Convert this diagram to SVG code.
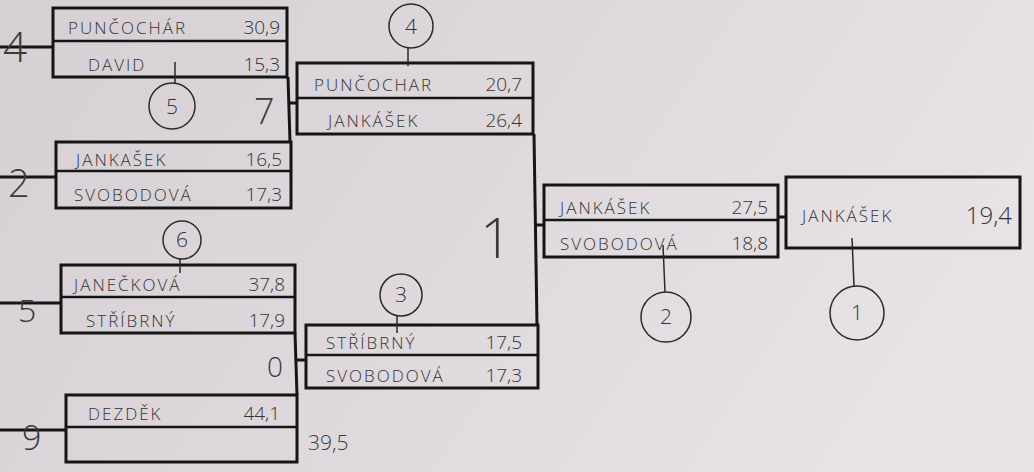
<svg xmlns="http://www.w3.org/2000/svg" width="1034" height="472" viewBox="0 0 1034 472">
<defs>
<linearGradient id="paper" x1="0" y1="0" x2="1" y2="0.3">
<stop offset="0" stop-color="#d6cfd3"/>
<stop offset="0.5" stop-color="#ded8dc"/>
<stop offset="1" stop-color="#e7e2e5"/>
</linearGradient>
<style>
.box{fill:none;stroke:#151515;stroke-width:3}
.mid{stroke:#151515;stroke-width:2.5}
.con{stroke:#151515;stroke-width:3;fill:none}
.name{font-family:"Open Sans","Liberation Sans",sans-serif;font-weight:300;font-size:17px;fill:#333;letter-spacing:2px}
.score{font-family:"Open Sans","Liberation Sans",sans-serif;font-weight:300;font-size:19px;fill:#333;text-anchor:end}
.hand{font-family:"Open Sans","Liberation Sans",sans-serif;fill:#3a3a3a;font-weight:300}
.ring{fill:none;stroke:#2a2a2a;stroke-width:1.5}
.tick{stroke:#2a2a2a;stroke-width:1.5}
.rnum{font-family:"Open Sans","Liberation Sans",sans-serif;font-weight:300;font-size:21px;fill:#333;text-anchor:middle}
</style>
</defs>
<rect width="1034" height="472" fill="url(#paper)"/>

<g id="connectors">
<line class="con" x1="0" y1="47" x2="53" y2="47"/>
<line class="con" x1="0" y1="177" x2="56" y2="177"/>
<line class="con" x1="0" y1="303" x2="61" y2="303"/>
<line class="con" x1="0" y1="430" x2="66" y2="430"/>
<line class="con" x1="288" y1="77" x2="290" y2="142"/>
<line class="con" x1="289" y1="103" x2="297" y2="103"/>
<line class="con" x1="534" y1="134" x2="537" y2="325"/>
<line class="con" x1="536" y1="225" x2="544" y2="225"/>
<line class="con" x1="295" y1="333" x2="297" y2="395"/>
<line class="con" x1="296" y1="360" x2="306" y2="360"/>
<line class="con" x1="778" y1="217" x2="786" y2="217"/>
</g>

<g id="match-1">
<rect class="box" x="53" y="8" width="234" height="69"/>
<line class="mid" x1="53" y1="41" x2="287" y2="41"/>
<text class="name" x="68" y="34">PUNČOCHÁR</text>
<text class="score" x="280" y="34">30,9</text>
<text class="name" x="88" y="71">DAVID</text>
<text class="score" x="280" y="71">15,3</text>
</g>

<g id="match-2">
<rect class="box" x="56" y="142" width="235" height="66"/>
<line class="mid" x1="56" y1="171" x2="291" y2="171"/>
<text class="name" x="76" y="166">JANKAŠEK</text>
<text class="score" x="282" y="166">16,5</text>
<text class="name" x="74" y="201">SVOBODOVÁ</text>
<text class="score" x="282" y="201">17,3</text>
</g>

<g id="match-3">
<rect class="box" x="61" y="265" width="234" height="68"/>
<line class="mid" x1="61" y1="297" x2="295" y2="297"/>
<text class="name" x="74" y="291">JANEČKOVÁ</text>
<text class="score" x="285" y="291">37,8</text>
<text class="name" x="86" y="327">STŘÍBRNÝ</text>
<text class="score" x="285" y="327">17,9</text>
</g>

<g id="match-4">
<rect class="box" x="66" y="395" width="231" height="67"/>
<line class="mid" x1="66" y1="427" x2="297" y2="427"/>
<text class="name" x="88" y="420">DEZDĚK</text>
<text class="score" x="280" y="420">44,1</text>
</g>

<g id="match-5">
<rect class="box" x="297" y="63" width="236" height="71"/>
<line class="mid" x1="297" y1="98" x2="533" y2="98"/>
<text class="name" x="314" y="91">PUNČOCHAR</text>
<text class="score" x="522" y="91">20,7</text>
<text class="name" x="328" y="127">JANKÁŠEK</text>
<text class="score" x="522" y="127">26,4</text>
</g>

<g id="match-6">
<rect class="box" x="306" y="325" width="232" height="63"/>
<line class="mid" x1="306" y1="355" x2="538" y2="355"/>
<text class="name" x="326" y="349">STŘÍBRNÝ</text>
<text class="score" x="522" y="349">17,5</text>
<text class="name" x="326" y="382">SVOBODOVÁ</text>
<text class="score" x="522" y="382">17,3</text>
</g>

<g id="match-7">
<rect class="box" x="544" y="185" width="234" height="72"/>
<line class="mid" x1="544" y1="220" x2="778" y2="220"/>
<text class="name" x="560" y="214">JANKÁŠEK</text>
<text class="score" x="768" y="214">27,5</text>
<text class="name" x="560" y="250">SVOBODOVÁ</text>
<text class="score" x="768" y="250">18,8</text>
</g>

<g id="final">
<rect class="box" x="786" y="177" width="234" height="71"/>
<text class="name" x="802" y="222">JANKÁŠEK</text>
<text class="score" x="1012" y="224" style="font-size:24px">19,4</text>
</g>

<g id="seeds">
<text class="hand" x="3" y="62" font-size="42">4</text>
<text class="hand" x="8" y="197" font-size="38">2</text>
<text class="hand" x="18" y="322" font-size="32">5</text>
<text class="hand" x="22" y="450" font-size="34">9</text>
<text class="hand" x="254" y="124" font-size="36">7</text>
<text class="hand" x="480" y="258" font-size="56">1</text>
<text class="hand" x="267" y="377" font-size="28">0</text>
<text class="hand" x="308" y="450" font-size="21">39,5</text>
</g>

<g id="place-4">
<line class="tick" x1="408" y1="48" x2="408" y2="66"/>
<circle class="ring" cx="411" cy="26" r="22"/>
<text class="rnum" x="411" y="34">4</text>
</g>
<g id="place-5">
<line class="tick" x1="175" y1="62" x2="175" y2="84"/>
<circle class="ring" cx="172" cy="106" r="23"/>
<text class="rnum" x="172" y="114">5</text>
</g>
<g id="place-6">
<line class="tick" x1="180" y1="258" x2="180" y2="273"/>
<circle class="ring" cx="182" cy="240" r="19"/>
<text class="rnum" x="182" y="247">6</text>
</g>
<g id="place-3">
<line class="tick" x1="397" y1="316" x2="397" y2="333"/>
<circle class="ring" cx="401" cy="295" r="21"/>
<text class="rnum" x="401" y="302">3</text>
</g>
<g id="place-2">
<line class="tick" x1="663" y1="245" x2="665" y2="292"/>
<circle class="ring" cx="666" cy="317" r="25"/>
<text class="rnum" x="666" y="324">2</text>
</g>
<g id="place-1">
<line class="tick" x1="852" y1="238" x2="854" y2="286"/>
<circle class="ring" cx="857" cy="313" r="27"/>
<text class="rnum" x="857" y="320">1</text>
</g>
</svg>
